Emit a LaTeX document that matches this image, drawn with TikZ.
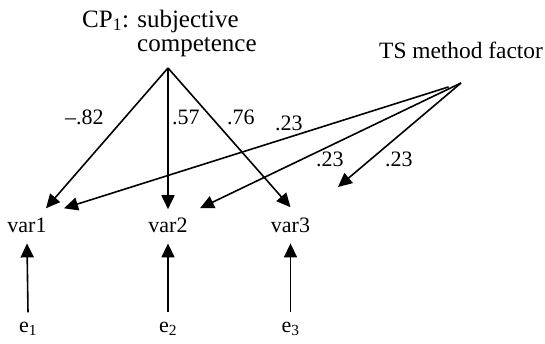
\documentclass[tikz,border=0pt]{standalone}
\usepackage{fontspec}
\setmainfont{Liberation Serif}
\usepackage{tikz}
\usetikzlibrary{arrows.meta, positioning}

\begin{document}
\begin{tikzpicture}[
    x=1pt, y=-1pt,
    var/.style={inner sep=0pt, anchor=base, font=\fontsize{22}{26}\selectfont},
    factor/.style={inner sep=0pt, anchor=base west, font=\fontsize{25}{29}\selectfont},
    coef/.style={inner sep=0pt, anchor=base west, font=\fontsize{22}{26}\selectfont},
    arrow/.style={line width=1.6pt, -{Triangle[length=14pt,width=13pt]}}
]
\useasboundingbox (0,0) rectangle (545,343);

% Factors
\node (cptitle) [factor] at (82,27) {CP\textsubscript{1}: subjective};
\node (cp) [factor] at (137,51) {competence};
\node (ts) [factor, font=\fontsize{23.4}{28}\selectfont] at (379,58) {TS method factor};
\coordinate (cpsrc) at (168,68);
\coordinate (tssrc) at (461,83);
\coordinate (tsfree) at (338,187);

% Observed variables and errors
\node (var1) [var] at (27,232) {var1};
\node (var2) [var] at (168,232) {var2};
\node (var3) [var] at (290.5,232) {var3};
\node (e1) [var] at (28,332) {e\textsubscript{1}};
\node (e2) [var] at (168,332) {e\textsubscript{2}};
\node (e3) [var] at (290.5,332) {e\textsubscript{3}};

% Loadings
\draw [arrow] (cpsrc) -- ([shift={(19,-9)}]var1.north);
\draw [arrow] (cpsrc) -- ([yshift=8pt]var2.north);
\draw [arrow] (cpsrc) -- ([yshift=10pt]var3.north);
\draw [arrow, shorten <=13pt] (tssrc) -- ([shift={(37,-9)}]var1.north);
\draw [arrow] (tssrc) -- ([shift={(32,-9)}]var2.north);
\draw [arrow] (tssrc) -- (tsfree);

\node (l1) [coef] at (65,124) {–.82};
\node (l2) [coef] at (172,124) {.57};
\node (l3) [coef] at (227,124) {.76};
\node (l4) [coef] at (275,130) {.23};
\node (l5) [coef] at (316,166.7) {.23};
\node (l6) [coef] at (385,166.7) {.23};

% Errors
\foreach \i in {1,2,3}
    \draw [arrow] ([yshift=9pt]e\i.north) -- ([yshift=-11pt]var\i.south);

\end{tikzpicture}
\end{document}
